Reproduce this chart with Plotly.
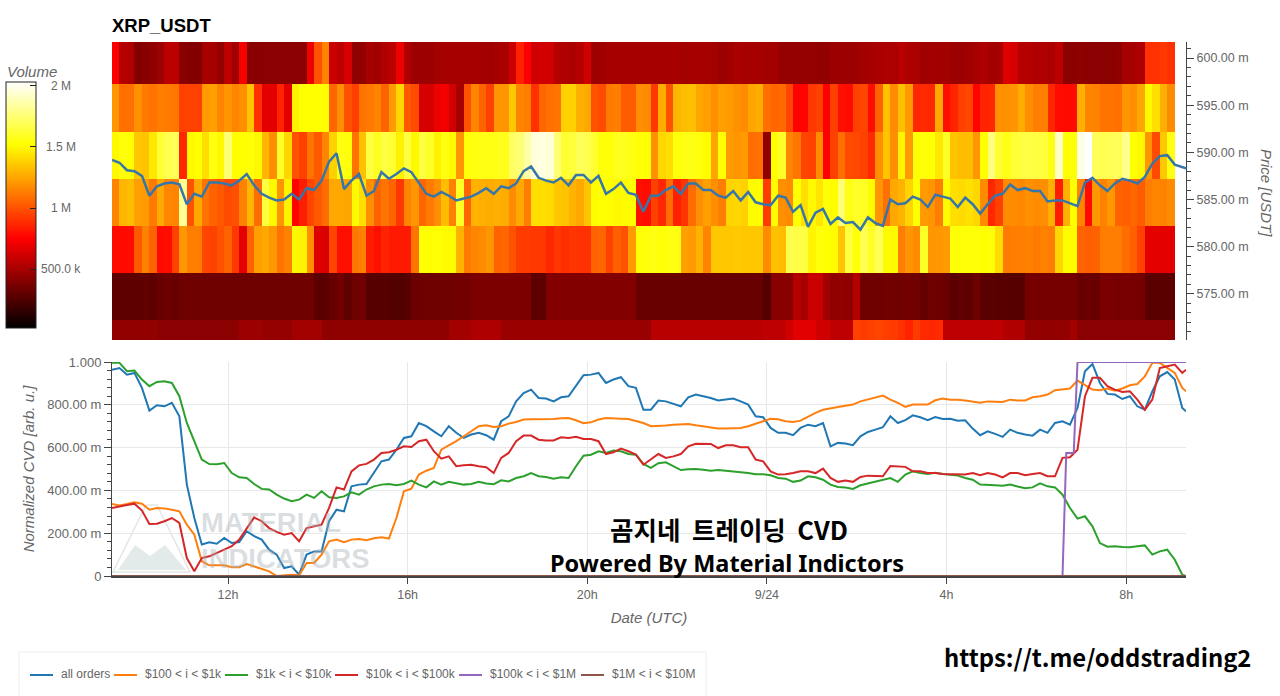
import pandas as pd
import plotly.graph_objects as go
from plotly.subplots import make_subplots

W, H = 1280, 696

# price bucket edges [m], heatmap columns are 10 min wide
price_edges = [570.0, 572.25, 577.2, 582.2, 587.2, 592.2, 597.2, 601.7]

# volume per bucket in k, lowest bucket first
vol_570 = [440, 440, 440, 440, 440, 440, 420, 420, 420, 420, 420, 420, 420, 420, 420, 420, 420, 470, 470, 470, 450, 450, 450, 450,
           490, 490, 490, 490, 430, 430, 430, 430, 430, 430, 430, 430, 430, 430, 430, 430, 430, 430, 430, 430, 430, 490, 490, 490,
           520, 520, 520, 520, 460, 460, 460, 460, 460, 460, 460, 460, 460, 460, 460, 460, 460, 460, 460, 460, 460, 460, 460, 460,
           550, 550, 550, 550, 550, 550, 550, 550, 550, 550, 550, 550, 550, 550, 550, 570, 570, 570, 620, 670, 670, 670, 620, 620,
           570, 570, 570, 950, 930, 950, 960, 940, 930, 900, 860, 930, 880, 870, 880, 570, 570, 570, 570, 570, 570, 570, 570, 530,
           530, 530, 440, 440, 440, 440, 440, 440, 490, 420, 420, 420, 420, 420, 420, 420, 420, 420, 420, 420, 420, 420]
vol_575 = [290, 290, 290, 290, 295, 290, 320, 330, 320, 340, 340, 340, 340, 340, 340, 340, 340, 340, 340, 340, 340, 340, 340, 340,
           340, 340, 340, 280, 280, 320, 350, 300, 340, 350, 270, 270, 270, 260, 260, 270, 330, 340, 340, 340, 340, 340, 350, 350,
           380, 380, 380, 380, 380, 380, 380, 380, 290, 290, 395, 395, 395, 395, 395, 395, 395, 395, 395, 395, 395, 395, 320, 320,
           320, 320, 320, 320, 320, 320, 320, 320, 320, 320, 320, 320, 320, 320, 320, 260, 410, 410, 410, 540, 500, 600, 600, 480,
           430, 440, 430, 540, 340, 340, 340, 350, 340, 340, 350, 340, 310, 340, 340, 320, 280, 300, 290, 340, 280, 280, 270, 270,
           270, 270, 360, 360, 360, 360, 360, 360, 360, 320, 330, 320, 370, 370, 360, 370, 360, 360, 280, 280, 280, 280]
vol_580 = [790, 780, 790, 1020, 1140, 1050, 780, 790, 950, 1210, 1130, 1130, 960, 950, 1000, 1050, 920, 680, 1050, 1230, 1260, 1210, 1100, 1140,
           1500, 1480, 1180, 660, 650, 960, 800, 800, 1110, 1140, 840, 800, 860, 830, 830, 830, 1100, 1530, 1520, 1530, 1510, 1510, 1290, 1120,
           1160, 1170, 1200, 1050, 1060, 1000, 930, 930, 920, 920, 870, 920, 890, 910, 900, 900, 1050, 1060, 950, 1040, 1000, 1220, 1530, 1540,
           1560, 1530, 1550, 1550, 1230, 1220, 1290, 1150, 1350, 1350, 1350, 1360, 1350, 1350, 1350, 1170, 1330, 1320, 1680, 1660, 1650, 1490, 1540, 1520,
           1510, 1340, 1650, 1530, 1680, 1590, 1700, 1510, 1500, 1130, 1200, 1170, 1600, 1200, 1210, 1220, 1530, 1530, 1540, 1530, 1520, 1530, 1410, 1120,
           1130, 1130, 1140, 1120, 1140, 1130, 1400, 1510, 1510, 1050, 1040, 1050, 1130, 1130, 1130, 1080, 1040, 950, 680, 680, 680, 680]
vol_585 = [1150, 1300, 1320, 1230, 1220, 1120, 1260, 1160, 1150, 1820, 1000, 1260, 1100, 1050, 1020, 980, 990, 1140, 1300, 1080, 1650, 1500, 1200, 1480,
           760, 840, 960, 1020, 1080, 1260, 1260, 1250, 1500, 1420, 1180, 1050, 1100, 1050, 920, 1150, 1200, 1060, 1120, 1180, 1320, 1140, 1600, 1060,
           1290, 1280, 1270, 1280, 1270, 1170, 1260, 1130, 1420, 1420, 1410, 1350, 1340, 1290, 1260, 1340, 1510, 1520, 1520, 1500, 1510, 1520, 800, 790,
           950, 870, 1080, 850, 910, 1080, 1180, 1230, 1180, 1130, 1390, 1400, 1380, 1510, 1520, 930, 1510, 1180, 1170, 1520, 1420, 1500, 1440, 1530,
           1510, 1750, 1560, 1600, 1590, 1510, 1200, 1090, 1260, 1290, 1390, 1520, 1220, 1200, 1130, 1510, 1420, 1410, 1430, 1400, 1170, 870, 950, 1170,
           1170, 1160, 1190, 1170, 1180, 1280, 840, 1280, 1520, 1150, 780, 1210, 1140, 1210, 1050, 1040, 1060, 1030, 1130, 1150, 1140, 1170]
vol_590 = [1500, 1540, 1520, 1350, 1340, 1450, 1620, 1680, 1700, 870, 1500, 1520, 1420, 1550, 1500, 1750, 1520, 1520, 1530, 1500, 1300, 1180, 1600, 1400,
           1000, 950, 1100, 1020, 1150, 1380, 1550, 1540, 1100, 1330, 1650, 1580, 1650, 1620, 1480, 1650, 1500, 1650, 1600, 1480, 1550, 1500, 1200, 1540,
           1550, 1560, 1560, 1570, 1570, 1720, 1750, 1850, 1960, 1970, 1950, 1750, 1620, 1640, 1700, 1680, 1620, 1540, 1530, 1580, 1580, 1550, 1530, 1530,
           1190, 1400, 1420, 1540, 1560, 1560, 1540, 1510, 1250, 1520, 1220, 1200, 1220, 1080, 1090, 430, 1520, 1600, 1150, 1110, 960, 950, 1170, 750,
           950, 1090, 980, 970, 950, 880, 1190, 1340, 1180, 1490, 1220, 1530, 1530, 1530, 1450, 1600, 1340, 1320, 1320, 1200, 1520, 1780, 1620, 1560,
           1620, 1650, 1660, 1650, 1640, 1560, 1920, 1520, 1530, 1980, 2030, 1700, 1680, 1690, 1700, 1800, 1520, 1500, 1200, 980, 1350, 1550]
vol_595 = [1200, 1090, 1090, 1190, 1120, 1100, 1130, 1120, 1110, 950, 950, 950, 1220, 1230, 1150, 1200, 1150, 1180, 1340, 900, 680, 680, 860, 680,
           1480, 1520, 1520, 1520, 1520, 1060, 1180, 1000, 940, 1100, 1120, 1150, 1050, 1220, 1400, 1020, 980, 640, 640, 700, 720, 620, 500, 1000,
           1150, 1050, 950, 1200, 1200, 1350, 1150, 1130, 900, 1060, 1090, 1100, 1380, 1380, 1280, 1260, 1000, 980, 1120, 1130, 1030, 1030, 1180, 1170,
           920, 1270, 1000, 1300, 1320, 1330, 1250, 1230, 1180, 1230, 1220, 1190, 1170, 1250, 1270, 1090, 1060, 1070, 960, 760, 770, 920, 950, 750,
           950, 800, 790, 950, 960, 790, 1050, 1330, 1170, 1330, 1220, 870, 880, 870, 1260, 800, 860, 950, 960, 760, 860, 870, 1190, 1190,
           1200, 1270, 1180, 1130, 1130, 870, 790, 780, 790, 1280, 1150, 1140, 1100, 1100, 1090, 1200, 1180, 1260, 1500, 1420, 1280, 1170]
vol_600 = [740, 540, 520, 400, 410, 430, 470, 560, 560, 410, 400, 400, 500, 500, 440, 560, 480, 730, 410, 410, 420, 420, 420, 420,
           420, 420, 700, 1000, 1150, 600, 560, 640, 430, 440, 500, 480, 530, 560, 700, 520, 470, 470, 470, 490, 500, 500, 500, 500,
           500, 490, 480, 500, 510, 600, 850, 740, 620, 620, 620, 540, 530, 510, 540, 620, 470, 480, 500, 500, 500, 500, 500, 500,
           500, 500, 500, 500, 490, 500, 500, 500, 490, 470, 480, 510, 500, 500, 500, 490, 490, 450, 450, 450, 450, 450, 440, 440,
           470, 470, 470, 470, 490, 500, 510, 520, 510, 550, 520, 510, 480, 490, 480, 490, 470, 470, 480, 500, 520, 490, 500, 660,
           640, 540, 540, 520, 530, 510, 560, 420, 420, 430, 420, 420, 420, 420, 430, 500, 500, 520, 900, 900, 920, 900]

# price [m], one value each 10 min and the last sample
price = [589.2, 588.9, 588.1, 588.0, 587.5, 585.4, 586.4, 586.7, 586.8, 586.6, 584.5, 585.6, 585.3, 586.8, 586.8, 586.7, 586.5, 587.0, 587.7, 586.5, 585.6, 585.2, 584.9, 585.0,
         585.6, 585.0, 586.2, 586.0, 587.0, 589.0, 589.9, 586.1, 587.0, 587.7, 585.4, 585.9, 587.9, 587.2, 587.7, 588.3, 587.9, 586.7, 585.6, 585.3, 585.8, 585.4, 584.9, 585.1,
         585.3, 585.7, 586.2, 585.6, 586.4, 586.2, 586.7, 588.0, 588.5, 587.3, 587.0, 586.8, 587.3, 586.5, 587.6, 587.6, 586.8, 587.5, 585.6, 586.1, 586.8, 585.7, 585.5, 583.7,
         585.4, 585.4, 586.0, 586.4, 585.6, 586.7, 586.7, 586.0, 586.0, 585.4, 585.2, 585.9, 584.9, 585.8, 584.7, 584.5, 584.4, 585.4, 585.2, 583.7, 584.4, 582.1, 583.6, 584.0,
         582.4, 583.1, 582.5, 582.6, 581.8, 583.1, 582.5, 582.2, 585.0, 584.5, 584.6, 585.3, 585.0, 584.2, 585.5, 585.3, 585.1, 584.2, 585.2, 584.5, 583.5, 584.5, 585.4, 585.6,
         586.6, 586.0, 586.2, 585.9, 585.9, 584.8, 584.9, 584.9, 584.6, 584.3, 586.8, 587.3, 586.5, 585.9, 586.7, 587.2, 587.0, 586.7, 587.4, 588.8, 589.6, 589.7, 588.7, 588.4, 588.3]

# normalized CVD [m], same time grid as price
cvd_all = [964, 972, 941, 949, 879, 773, 798, 793, 809, 746, 427, 271, 147, 158, 151, 178, 154, 159, 209, 186, 170, 123, 100, 37,
           45, 6, 100, 115, 115, 256, 310, 302, 419, 427, 430, 481, 536, 544, 590, 645, 653, 715, 700, 676, 653, 700, 669, 645,
           661, 669, 658, 637, 723, 746, 816, 855, 871, 832, 829, 816, 835, 840, 887, 938, 941, 949, 902, 918, 929, 887, 879, 777,
           777, 820, 816, 804, 793, 835, 848, 840, 832, 820, 824, 829, 816, 801, 746, 742, 692, 669, 669, 658, 692, 707, 700, 715,
           606, 622, 619, 611, 653, 673, 684, 695, 746, 715, 728, 751, 742, 728, 743, 734, 735, 726, 728, 689, 658, 676, 664, 650,
           684, 669, 661, 656, 684, 669, 715, 723, 707, 785, 957, 991, 902, 851, 848, 827, 840, 793, 777, 863, 933, 953, 918, 785, 770]
cvd_100_1k = [337, 330, 337, 345, 338, 310, 318, 316, 310, 302, 240, 193, 69, 50, 50, 50, 41, 41, 56, 45, 33, 22, 0, 3,
              6, 3, 61, 61, 100, 162, 170, 158, 170, 173, 167, 176, 181, 175, 271, 396, 408, 474, 492, 505, 590, 611, 630, 653,
              676, 700, 704, 696, 700, 712, 720, 731, 732, 732, 734, 734, 737, 738, 728, 714, 718, 731, 738, 738, 735, 734, 726, 715,
              700, 701, 703, 707, 710, 710, 704, 698, 693, 689, 689, 689, 692, 700, 710, 723, 735, 732, 723, 720, 726, 746, 762, 777,
              782, 790, 796, 801, 816, 824, 832, 843, 824, 809, 790, 801, 801, 801, 821, 829, 824, 824, 820, 816, 810, 816, 816, 813,
              824, 820, 820, 835, 840, 848, 868, 871, 876, 913, 891, 871, 868, 876, 866, 876, 891, 897, 933, 996, 996, 972, 949, 879, 863]
cvd_1k_10k = [996, 996, 957, 960, 918, 887, 907, 910, 902, 840, 715, 630, 544, 523, 522, 528, 481, 461, 458, 430, 407, 404, 380, 362,
              349, 357, 380, 365, 396, 368, 365, 372, 391, 380, 404, 419, 427, 430, 424, 430, 446, 427, 414, 442, 427, 440, 435, 427,
              430, 440, 432, 429, 447, 442, 458, 466, 481, 466, 463, 455, 461, 458, 513, 562, 567, 583, 575, 586, 583, 570, 567, 524,
              505, 527, 531, 513, 495, 499, 500, 497, 492, 495, 492, 489, 486, 481, 475, 475, 471, 458, 455, 440, 446, 466, 461, 450,
              427, 416, 414, 407, 424, 432, 440, 450, 458, 440, 474, 489, 481, 477, 483, 477, 474, 469, 458, 450, 427, 424, 424, 422,
              427, 418, 410, 414, 433, 419, 414, 380, 318, 268, 279, 232, 154, 137, 139, 136, 134, 139, 143, 100, 115, 123, 76, 6, 0]
cvd_10k_100k = [318, 326, 332, 338, 306, 243, 244, 256, 271, 248, 84, 22, 84, 92, 108, 123, 139, 170, 224, 274, 256, 224, 206, 193,
                201, 162, 224, 232, 240, 318, 414, 404, 489, 517, 524, 544, 575, 578, 590, 606, 603, 630, 637, 583, 548, 559, 513, 517,
                520, 513, 508, 481, 552, 575, 630, 656, 656, 637, 633, 633, 648, 645, 651, 640, 640, 630, 570, 578, 595, 583, 567, 520,
                544, 570, 552, 559, 570, 606, 618, 618, 617, 598, 611, 611, 602, 602, 544, 536, 489, 474, 475, 481, 489, 489, 481, 502,
                458, 440, 446, 440, 463, 469, 469, 466, 514, 513, 510, 489, 489, 481, 481, 477, 477, 475, 474, 481, 471, 481, 474, 461,
                481, 481, 471, 477, 481, 466, 466, 552, 555, 590, 840, 926, 926, 887, 871, 860, 863, 824, 777, 824, 972, 980, 988, 949, 964]
cvd_100k_1m = [0, 0, 575, 575, 1000, 1000]
cvd_1m_10m = [0, 0]
step_times = ["2023-09-23 09:25", "2023-09-24 06:35", "2023-09-24 06:40", "2023-09-24 06:50", "2023-09-24 06:55", "2023-09-24 09:20"]
flat_times = ["2023-09-23 09:25", "2023-09-24 09:20"]

series_names = ["all orders", "$100 < i < $1k", "$1k < i < $10k", "$10k < i < $100k", "$100k < i < $1M", "$1M < i < $10M"]
series_colors = ["#1f77b4", "#ff7f0e", "#2ca02c", "#d62728", "#9467bd", "#8c564b"]

time_ticks = ["2023-09-23 12:00", "2023-09-23 16:00", "2023-09-23 20:00", "2023-09-24 00:00", "2023-09-24 04:00", "2023-09-24 08:00"]
time_labels = ["12h", "16h", "20h", "9/24", "4h", "8h"]
cvd_ticks = [0, 200, 400, 600, 800, 1000]
cvd_labels = ["0", "200.00 m", "400.00 m", "600.00 m", "800.00 m", "1.000"]
vol_ticks = [500, 1000, 1500, 2000]
vol_labels = ["500.0 k", "1 M", "1.5 M", "2 M"]

hot = [[0, "#000000"], [0.365, "#ff0000"], [0.746, "#ffff00"], [1, "#ffffff"]]
vol_min, vol_max = 20, 2030
x_range = ["2023-09-23 09:25", "2023-09-24 09:20"]
line_times = list(pd.date_range("2023-09-23 09:25", periods=144, freq="10min")) + [pd.Timestamp("2023-09-24 09:20")]
heat_edges = pd.date_range("2023-09-23 09:25", periods=143, freq="10min")

GREY = "#666666"
AXIS = "#444444"
SANS = "Liberation Sans"


def px(x):
    return x / W


def py(y):
    return 1 - y / H


fig = make_subplots(rows=2, cols=1, shared_xaxes=True)

fig.add_trace(go.Heatmap(
    x=heat_edges, y=price_edges,
    z=[vol_570, vol_575, vol_580, vol_585, vol_590, vol_595, vol_600],
    colorscale=hot, zmin=vol_min, zmax=vol_max, hoverinfo="skip",
    colorbar=dict(x=px(6), xanchor="left", xpad=0, y=py(82), yanchor="top", ypad=0,
                  len=246, lenmode="pixels", thickness=30, thicknessmode="pixels",
                  outlinecolor="#222222", outlinewidth=1, borderwidth=0,
                  tickmode="array", tickvals=vol_ticks, ticks="inside", ticklen=6,
                  tickcolor="#222222", showticklabels=False),
), row=1, col=1)
fig.add_trace(go.Scatter(x=line_times, y=price, mode="lines", showlegend=False,
                         line=dict(color="#3776a8", width=2.5)), row=1, col=1)

all_series = [cvd_all, cvd_100_1k, cvd_1k_10k, cvd_10k_100k, cvd_100k_1m, cvd_1m_10m]
all_times = [line_times, line_times, line_times, line_times, step_times, flat_times]
for name, color, xs, ys in zip(series_names, series_colors, all_times, all_series):
    fig.add_trace(go.Scatter(x=xs, y=ys, mode="lines", name=name, cliponaxis=False, showlegend=False,
                             line=dict(color=color, width=2)), row=2, col=1)

fig.update_xaxes(range=x_range, domain=[px(112), px(1186)], type="date")
fig.update_xaxes(row=1, col=1, showticklabels=False, ticks="", showgrid=False, showline=False, zeroline=False)
fig.update_xaxes(row=2, col=1, tickmode="array", tickvals=time_ticks, ticktext=time_labels,
                 ticks="outside", ticklen=6, tickcolor=AXIS, showline=True, linecolor=AXIS, linewidth=1.5,
                 showgrid=True, gridcolor="#e8e8e8", tickfont=dict(family=SANS, size=12.5, color=GREY),
                 title=dict(text="<i>Date (UTC)</i>", font=dict(family=SANS, size=15, color=GREY), standoff=12))
fig.update_yaxes(row=1, col=1, domain=[py(340), py(42)], side="right", range=[570.1, 601.7],
                 tick0=575, dtick=5, tickformat=".2f", ticksuffix=" m", ticks="outside", ticklen=7,
                 tickcolor=AXIS, showline=True, linecolor=AXIS, linewidth=1, showgrid=False, zeroline=False,
                 tickfont=dict(family=SANS, size=12.5, color=GREY),
                 minor=dict(tick0=570, dtick=1, ticks="outside", ticklen=4, tickcolor=AXIS, showgrid=False))
fig.update_yaxes(row=2, col=1, domain=[py(576), py(362)], range=[0, 1000],
                 tickmode="array", tickvals=cvd_ticks, ticktext=cvd_labels, ticks="outside", ticklen=7,
                 tickcolor=AXIS, showline=True, linecolor=AXIS, linewidth=1, showgrid=True, gridcolor="#e8e8e8",
                 zeroline=False, tickfont=dict(family=SANS, size=13, color=GREY),
                 minor=dict(tick0=0, dtick=40, ticks="outside", ticklen=4, tickcolor=AXIS, showgrid=False),
                 title=dict(text="<i>Normalized CVD [arb. u.]</i>", font=dict(family=SANS, size=15, color=GREY), standoff=8))

annotations = []


def note(text, x, y, size, color="#000000", family="Noto Sans CJK KR", anchor="center", angle=0):
    annotations.append(dict(text=text, x=px(x), y=py(y), xref="paper", yref="paper", showarrow=False,
                            xanchor=anchor, yanchor="middle", textangle=angle,
                            font=dict(family=family, size=size, color=color)))


# colorbar labels sit centred next to the bar, plotly only does left aligned
for val, lab in zip(vol_ticks, vol_labels):
    note(lab, 61, 328 - (val - vol_min) / (vol_max - vol_min) * 246, 12, GREY, SANS)
note("<i>Volume</i>", 32, 72, 15, GREY, SANS)
# right axis title reads top down
note("<i>Price [USDT]</i>", 1267, 193, 15, GREY, SANS, angle=90)

# watermark
note("<b>MATERIAL</b>", 271, 522, 27.5, "rgba(165,175,180,0.42)", SANS)
note("<b>INDICATORS</b>", 285, 558, 27.5, "rgba(165,175,180,0.42)", SANS)

note("<b>곰지네\u00a0 트레이딩\u00a0 CVD</b>", 729, 528, 25.5)
note("<b>Powered By Material Indictors</b>", 727, 563, 23.5, family="Noto Sans")
note("<b>https://t.me/oddstrading2</b>", 1097, 656, 23.8)

# flask of the watermark and the legend box
flask = f"M {px(146)},{py(505)} L {px(113)},{py(572)} L {px(190)},{py(572)} L {px(157)},{py(505)} Z"
hills = f"M {px(118)},{py(570)} L {px(135)},{py(545)} L {px(150)},{py(556)} L {px(165)},{py(545)} L {px(186)},{py(570)} Z"
shapes = [
    dict(type="path", path=flask, xref="paper", yref="paper", line=dict(color="#e4e6e6", width=1.5), layer="below"),
    dict(type="path", path=hills, xref="paper", yref="paper", fillcolor="#e3ebea", line=dict(width=0), layer="below"),
    dict(type="rect", x0=px(19), x1=px(706), y0=py(698), y1=py(652), xref="paper", yref="paper",
         line=dict(color="#eeeeee", width=1), layer="below"),
]

# legend is laid out by hand, the built in one is too wide for this box
legend_x = [30, 114, 225, 335, 459, 581]
for lx, name, color in zip(legend_x, series_names, series_colors):
    shapes.append(dict(type="line", x0=px(lx), x1=px(lx + 23), y0=py(675), y1=py(675), xref="paper", yref="paper",
                       line=dict(color=color, width=2)))
    note(name.replace("<", "&lt;"), lx + 29, 674, 12, GREY, SANS, anchor="left")

fig.update_layout(
    width=W, height=H, margin=dict(l=0, r=0, t=0, b=0, autoexpand=False), autosize=False,
    paper_bgcolor="#ffffff", plot_bgcolor="#ffffff", showlegend=False,
    title=dict(text="<b>XRP_USDT</b>", x=px(112), xref="paper", xanchor="left", y=py(26), yanchor="middle",
               font=dict(family=SANS, size=18.5, color="#000000")),
    annotations=annotations, shapes=shapes,
)

fig.write_html("out.html", config={"displayModeBar": False},
               post_script="document.body.style.margin='0';document.body.style.overflow='hidden';")
